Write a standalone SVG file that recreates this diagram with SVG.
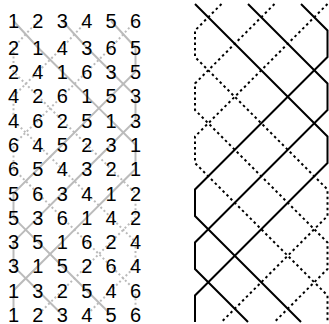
<svg xmlns="http://www.w3.org/2000/svg" width="329" height="324" viewBox="0 0 329 324">
<style>
.g{fill:none;stroke:#bbbbbb;stroke-width:2;stroke-linejoin:miter}
.gd{stroke-dasharray:2 2.5}
.b{fill:none;stroke:#000;stroke-width:2;stroke-linejoin:miter}
.bd{stroke-dasharray:2.5 3}
text{font-family:"Liberation Sans",Arial,sans-serif;font-size:20px;fill:#000;text-anchor:middle}
</style>
<rect width="329" height="324" fill="#fff"/>
<g id="connectors-left">
<polyline class="g" points="13.5,21 37.9,47.5 62.3,71.8 86.7,96.1 111.1,120.4 135.5,144.7 135.5,169 111.1,193.3 86.7,217.6 62.3,241.9 37.9,266.2 13.5,290.5 13.5,314.8"/>
<polyline class="g gd" points="37.9,21 13.5,47.5 13.5,71.8 37.9,96.1 62.3,120.4 86.7,144.7 111.1,169 135.5,193.3 135.5,217.6 111.1,241.9 86.7,266.2 62.3,290.5 37.9,314.8"/>
<polyline class="g" points="62.3,21 86.7,47.5 111.1,71.8 135.5,96.1 135.5,120.4 111.1,144.7 86.7,169 62.3,193.3 37.9,217.6 13.5,241.9 13.5,266.2 37.9,290.5 62.3,314.8"/>
<polyline class="g gd" points="86.7,21 62.3,47.5 37.9,71.8 13.5,96.1 13.5,120.4 37.9,144.7 62.3,169 86.7,193.3 111.1,217.6 135.5,241.9 135.5,266.2 111.1,290.5 86.7,314.8"/>
<polyline class="g" points="111.1,21 135.5,47.5 135.5,71.8 111.1,96.1 86.7,120.4 62.3,144.7 37.9,169 13.5,193.3 13.5,217.6 37.9,241.9 62.3,266.2 86.7,290.5 111.1,314.8"/>
<polyline class="g gd" points="135.5,21 111.1,47.5 86.7,71.8 62.3,96.1 37.9,120.4 13.5,144.7 13.5,169 37.9,193.3 62.3,217.6 86.7,241.9 111.1,266.2 135.5,290.5 135.5,314.8"/>
</g>
<g id="table">
<g id="row1"><text x="13.5" y="28.2">1</text><text x="37.9" y="28.2">2</text><text x="62.3" y="28.2">3</text><text x="86.7" y="28.2">4</text><text x="111.1" y="28.2">5</text><text x="135.5" y="28.2">6</text></g>
<g id="row2"><text x="13.5" y="54.7">2</text><text x="37.9" y="54.7">1</text><text x="62.3" y="54.7">4</text><text x="86.7" y="54.7">3</text><text x="111.1" y="54.7">6</text><text x="135.5" y="54.7">5</text></g>
<g id="row3"><text x="13.5" y="79">2</text><text x="37.9" y="79">4</text><text x="62.3" y="79">1</text><text x="86.7" y="79">6</text><text x="111.1" y="79">3</text><text x="135.5" y="79">5</text></g>
<g id="row4"><text x="13.5" y="103.3">4</text><text x="37.9" y="103.3">2</text><text x="62.3" y="103.3">6</text><text x="86.7" y="103.3">1</text><text x="111.1" y="103.3">5</text><text x="135.5" y="103.3">3</text></g>
<g id="row5"><text x="13.5" y="127.6">4</text><text x="37.9" y="127.6">6</text><text x="62.3" y="127.6">2</text><text x="86.7" y="127.6">5</text><text x="111.1" y="127.6">1</text><text x="135.5" y="127.6">3</text></g>
<g id="row6"><text x="13.5" y="151.9">6</text><text x="37.9" y="151.9">4</text><text x="62.3" y="151.9">5</text><text x="86.7" y="151.9">2</text><text x="111.1" y="151.9">3</text><text x="135.5" y="151.9">1</text></g>
<g id="row7"><text x="13.5" y="176.2">6</text><text x="37.9" y="176.2">5</text><text x="62.3" y="176.2">4</text><text x="86.7" y="176.2">3</text><text x="111.1" y="176.2">2</text><text x="135.5" y="176.2">1</text></g>
<g id="row8"><text x="13.5" y="200.5">5</text><text x="37.9" y="200.5">6</text><text x="62.3" y="200.5">3</text><text x="86.7" y="200.5">4</text><text x="111.1" y="200.5">1</text><text x="135.5" y="200.5">2</text></g>
<g id="row9"><text x="13.5" y="224.8">5</text><text x="37.9" y="224.8">3</text><text x="62.3" y="224.8">6</text><text x="86.7" y="224.8">1</text><text x="111.1" y="224.8">4</text><text x="135.5" y="224.8">2</text></g>
<g id="row10"><text x="13.5" y="249.1">3</text><text x="37.9" y="249.1">5</text><text x="62.3" y="249.1">1</text><text x="86.7" y="249.1">6</text><text x="111.1" y="249.1">2</text><text x="135.5" y="249.1">4</text></g>
<g id="row11"><text x="13.5" y="273.4">3</text><text x="37.9" y="273.4">1</text><text x="62.3" y="273.4">5</text><text x="86.7" y="273.4">2</text><text x="111.1" y="273.4">6</text><text x="135.5" y="273.4">4</text></g>
<g id="row12"><text x="13.5" y="297.7">1</text><text x="37.9" y="297.7">3</text><text x="62.3" y="297.7">2</text><text x="86.7" y="297.7">5</text><text x="111.1" y="297.7">4</text><text x="135.5" y="297.7">6</text></g>
<g id="row13"><text x="13.5" y="322">1</text><text x="37.9" y="322">2</text><text x="62.3" y="322">3</text><text x="86.7" y="322">4</text><text x="111.1" y="322">5</text><text x="135.5" y="322">6</text></g>
</g>
<g id="connectors-right">
<polyline class="b" points="195,4 221.5,30.5 248,57 274.5,83.5 301,110 327.5,136.5 327.5,163 301,189.5 274.5,216 248,242.5 221.5,269 195,295.5 195,322"/>
<polyline class="b bd" points="221.5,4 195,30.5 195,57 221.5,83.5 248,110 274.5,136.5 301,163 327.5,189.5 327.5,216 301,242.5 274.5,269 248,295.5 221.5,322"/>
<polyline class="b" points="248,4 274.5,30.5 301,57 327.5,83.5 327.5,110 301,136.5 274.5,163 248,189.5 221.5,216 195,242.5 195,269 221.5,295.5 248,322"/>
<polyline class="b bd" points="274.5,4 248,30.5 221.5,57 195,83.5 195,110 221.5,136.5 248,163 274.5,189.5 301,216 327.5,242.5 327.5,269 301,295.5 274.5,322"/>
<polyline class="b" points="301,4 327.5,30.5 327.5,57 301,83.5 274.5,110 248,136.5 221.5,163 195,189.5 195,216 221.5,242.5 248,269 274.5,295.5 301,322"/>
<polyline class="b bd" points="327.5,4 301,30.5 274.5,57 248,83.5 221.5,110 195,136.5 195,163 221.5,189.5 248,216 274.5,242.5 301,269 327.5,295.5 327.5,322"/>
</g>
</svg>
